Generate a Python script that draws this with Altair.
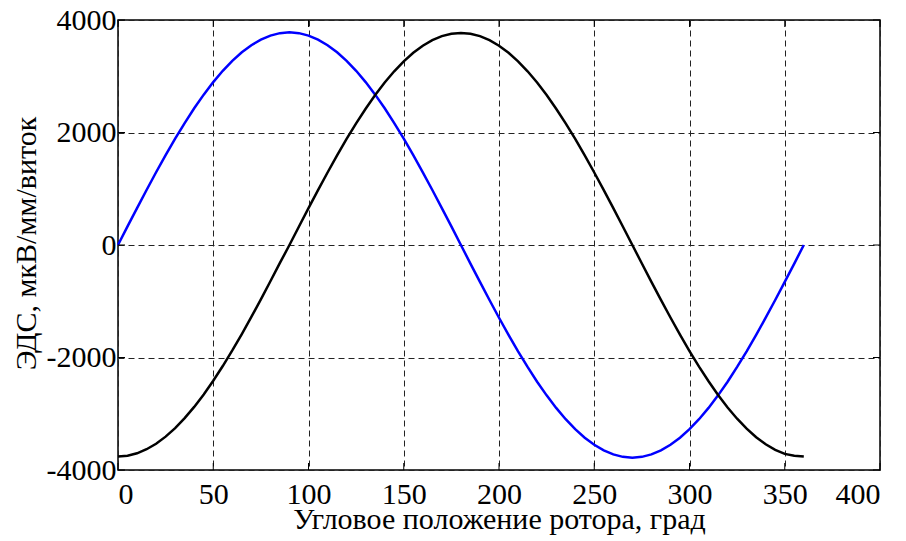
import altair as alt
import pandas as pd

angle = list(range(0, 361, 5))
blue = [0, 330, 656, 978, 1293, 1597, 1890, 2168, 2430, 2673, 2896, 3097, 3274, 3426, 3552, 3651, 3723, 3766,
        3780, 3766, 3723, 3651, 3552, 3426, 3274, 3097, 2896, 2673, 2430, 2168, 1890, 1597, 1293, 978, 656, 330,
        0, -330, -656, -978, -1293, -1597, -1890, -2168, -2430, -2673, -2896, -3097, -3274, -3426, -3552, -3651, -3723, -3766,
        -3780, -3766, -3723, -3651, -3552, -3426, -3274, -3097, -2896, -2673, -2430, -2168, -1890, -1597, -1293, -978, -656, -330, 0]
black = [-3760, -3746, -3703, -3631, -3533, -3407, -3255, -3078, -2878, -2656, -2413, -2152, -1875, -1583, -1279, -966, -645, -319,
         0, 329, 655, 976, 1289, 1593, 1885, 2162, 2423, 2666, 2888, 3088, 3265, 3417, 3543, 3641, 3713, 3756,
         3770, 3756, 3713, 3641, 3543, 3417, 3265, 3088, 2888, 2666, 2423, 2162, 1885, 1593, 1289, 976, 655, 329,
         0, -329, -655, -976, -1289, -1593, -1885, -2162, -2423, -2666, -2888, -3088, -3265, -3417, -3543, -3641, -3713, -3746, -3760]
x_ticks = [0, 50, 100, 150, 200, 250, 300, 350, 400]
y_ticks = [-4000, -2000, 0, 2000, 4000]

W, H = 762, 450
FONT = "Liberation Serif, Times New Roman, serif"
FS = 30

df = pd.DataFrame({"angle": angle * 2, "emf": blue + black,
                   "series": ["blue"] * len(angle) + ["black"] * len(angle)})

xs = alt.Scale(domain=[0, 400], nice=False, zero=False)
ys = alt.Scale(domain=[-4000, 4000], nice=False, zero=False)

common = dict(grid=True, gridDash=[6, 4], gridColor="#222", gridWidth=1, tickSize=0, domain=False,
              labelExpr="toString(datum.value)",
              labelFont=FONT, titleFont=FONT, labelFontSize=FS, titleFontSize=FS,
              labelColor="black", titleColor="black", titleFontWeight="normal")

lines = alt.Chart(df).mark_line(strokeWidth=2.5).encode(
    x=alt.X("angle:Q", scale=xs,
            axis=alt.Axis(values=x_ticks, title="Угловое положение ротора, град",
                          labelPadding=33, labelBaseline="alphabetic",
                          titleY=58, titleBaseline="alphabetic", **common)),
    y=alt.Y("emf:Q", scale=ys,
            axis=alt.Axis(values=y_ticks, title="ЭДС, мкВ/мм/виток",
                          labelPadding=2, titleX=-83, titleY=223, titleBaseline="alphabetic",
                          titleAngle=270, **common)),
    color=alt.Color("series:N", scale=alt.Scale(domain=["blue", "black"], range=["#0000FF", "#000000"]),
                    legend=None),
    detail="series:N",
)

xt = pd.DataFrame({"v": x_ticks})
yt = pd.DataFrame({"v": y_ticks})
tb = alt.Chart(xt).mark_rule(color="black", strokeWidth=1).encode(
    x=alt.X("v:Q", scale=xs), y=alt.value(H), y2=alt.value(H - 7))
tt = alt.Chart(xt).mark_rule(color="black", strokeWidth=1).encode(
    x=alt.X("v:Q", scale=xs), y=alt.value(0), y2=alt.value(7))
tl = alt.Chart(yt).mark_rule(color="black", strokeWidth=1).encode(
    y=alt.Y("v:Q", scale=ys), x=alt.value(0), x2=alt.value(7))
tr = alt.Chart(yt).mark_rule(color="black", strokeWidth=1).encode(
    y=alt.Y("v:Q", scale=ys), x=alt.value(W), x2=alt.value(W - 7))

chart = alt.layer(lines, tb, tt, tl, tr).properties(
    width=W, height=H,
    autosize=alt.AutoSizeParams(type="none"),
    padding={"left": 118, "top": 20, "right": 26, "bottom": 71},
    background="white",
).configure_view(stroke="black", strokeWidth=1.5)

chart.save("out.html", embed_options={"renderer": "svg", "actions": False})
